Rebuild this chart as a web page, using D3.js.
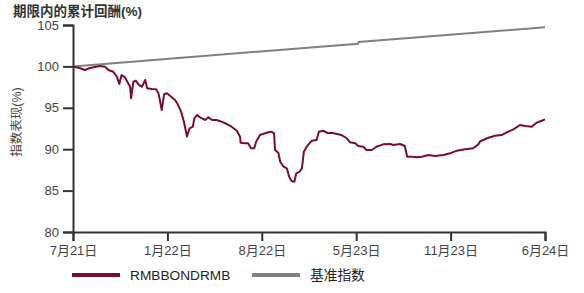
<!DOCTYPE html>
<meta charset="utf-8">
<script src="https://d3js.org/d3.v7.min.js"></script>
<style>
  body { margin: 0; background: #fff; }
  text { font-family: "Liberation Sans", Arial, "Noto Sans CJK SC", sans-serif; }
</style>
<div id="chart"></div>
<script>
// x position = trading-day step (0..100), y = index level (%)
var fundDays = [0, 1.5, 2.5, 3.6, 5.7, 6.8, 7.5, 8.5, 9.3, 9.8, 10.3, 11.0, 11.5, 12.1, 12.3, 12.8, 13.3, 14.0, 14.6, 15.3, 15.7, 16.7, 17.6, 18.1, 18.4, 18.8, 19.3, 19.9, 20.8, 21.6, 22.1, 22.9, 23.5, 24.15, 24.7, 25.4, 25.7, 26.3, 26.9, 28.0, 28.7, 29.5, 30.4, 31.5, 32.6, 33.6, 34.7, 35.4, 35.5, 36.4, 37.1, 37.7, 38.4, 38.8, 39.6, 40.7, 41.4, 42.1, 42.6, 42.8, 43.5, 43.9, 44.6, 45.3, 45.8, 46.3, 46.9, 47.3, 48.0, 48.5, 48.9, 49.5, 50.6, 51.6, 52.1, 53.0, 54.1, 54.8, 55.9, 56.9, 58.0, 58.7, 59.8, 60.4, 61.5, 62.2, 63.3, 64.3, 65.7, 67.2, 67.9, 69.3, 70.3, 70.8, 71.8, 72.8, 73.9, 75.3, 76.7, 78.5, 79.9, 81.3, 83.1, 84.8, 85.9, 86.2, 87.7, 89.4, 90.8, 91.9, 93.3, 94.7, 95.8, 97.2, 98.2, 99.3, 100];
var fundValues = [100.0, 99.77, 99.57, 99.81, 100.05, 99.96, 99.57, 99.36, 98.76, 97.87, 98.96, 98.68, 98.15, 97.55, 96.15, 98.15, 98.27, 97.75, 97.55, 98.36, 97.36, 97.27, 97.23, 96.75, 95.94, 94.73, 96.63, 96.75, 96.34, 95.94, 95.54, 94.53, 93.32, 91.53, 92.52, 92.72, 93.73, 94.13, 93.85, 93.53, 93.85, 93.53, 93.53, 93.32, 93.04, 92.72, 92.23, 91.51, 90.79, 90.71, 90.71, 90.11, 90.11, 90.91, 91.71, 91.92, 92.04, 92.11, 91.92, 89.90, 89.58, 88.49, 87.89, 87.69, 86.68, 86.16, 86.07, 87.09, 87.28, 87.69, 89.66, 90.30, 91.03, 91.11, 92.11, 92.23, 91.92, 91.99, 91.84, 91.71, 91.32, 90.83, 90.71, 90.39, 90.30, 89.90, 89.90, 90.30, 90.59, 90.63, 90.51, 90.63, 90.39, 89.09, 89.09, 89.02, 89.09, 89.30, 89.18, 89.30, 89.50, 89.82, 89.99, 90.11, 90.59, 90.91, 91.32, 91.63, 91.71, 92.04, 92.40, 92.92, 92.80, 92.72, 93.20, 93.44, 93.61, 93.44, 93.44];

var benchDays = [0, 60.4, 60.5, 100];
var benchValues = [100.0, 102.74, 102.95, 104.72];

var tickDays = [0, 20, 40, 60, 80, 100];
var tickLabels = ["7月21日", "1月22日", "8月22日", "5月23日", "11月23日", "6月24日"];
var yTicks = [80, 85, 90, 95, 100, 105];

var seriesNames = ["RMBBONDRMB", "基准指数"];
var seriesColors = ["#7b0a3c", "#808080"];

var W = 584, H = 293;
var margin = {top: 25, right: 39, bottom: 61, left: 73};
var width = W - margin.left - margin.right,
    height = H - margin.top - margin.bottom;

var svg = d3.select("#chart").append("svg")
    .attr("width", W).attr("height", H);

svg.append("text")
    .attr("x", 13).attr("y", 16)
    .style("font-size", "13.5px").style("font-weight", "bold")
    .attr("fill", "#333")
    .text("期限内的累计回酬(%)");

var g = svg.append("g")
    .attr("transform", "translate(" + margin.left + "," + margin.top + ")");

var x = d3.scaleLinear().domain([0, 100]).range([0, width]);
var y = d3.scaleLinear().domain([80, 105]).range([height, 0]);

// y axis
var yAxis = g.append("g")
    .call(d3.axisLeft(y).tickValues(yTicks).tickSize(10).tickPadding(4));
yAxis.selectAll("text").style("font-size", "13px").attr("fill", "#444");

// x axis
var xAxis = g.append("g")
    .attr("transform", "translate(0," + height + ")")
    .call(d3.axisBottom(x).tickValues(tickDays).tickSize(9).tickPadding(5)
      .tickFormat(function(d, i) { return tickLabels[i]; }));
xAxis.selectAll("text").style("font-size", "13px").attr("fill", "#444");

g.selectAll(".domain").attr("stroke", "#333").attr("stroke-width", 2);
g.selectAll(".tick line").attr("stroke", "#333").attr("stroke-width", 2);

svg.append("text")
    .attr("transform", "translate(21,122) rotate(-90)")
    .style("text-anchor", "middle")
    .style("font-size", "12.5px")
    .attr("fill", "#444")
    .text("指数表现(%)");

var line = d3.line()
    .x(function(d) { return x(d[0]); })
    .y(function(d) { return y(d[1]); });

g.append("path")
    .datum(d3.zip(benchDays, benchValues))
    .attr("fill", "none")
    .attr("stroke", seriesColors[1])
    .attr("stroke-width", 2)
    .attr("d", line);

g.append("path")
    .datum(d3.zip(fundDays, fundValues))
    .attr("fill", "none")
    .attr("stroke", seriesColors[0])
    .attr("stroke-width", 2)
    .attr("stroke-linejoin", "round")
    .attr("d", line);

// legend
var legendX = [72, 252];
seriesNames.forEach(function(name, i) {
  svg.append("line")
    .attr("x1", legendX[i]).attr("x2", legendX[i] + 48)
    .attr("y1", 275).attr("y2", 275)
    .attr("stroke", seriesColors[i]).attr("stroke-width", 4);
  svg.append("text")
    .attr("x", legendX[i] + 58).attr("y", 280)
    .style("font-size", "13.7px")
    .attr("fill", "#222")
    .text(name);
});
</script>
